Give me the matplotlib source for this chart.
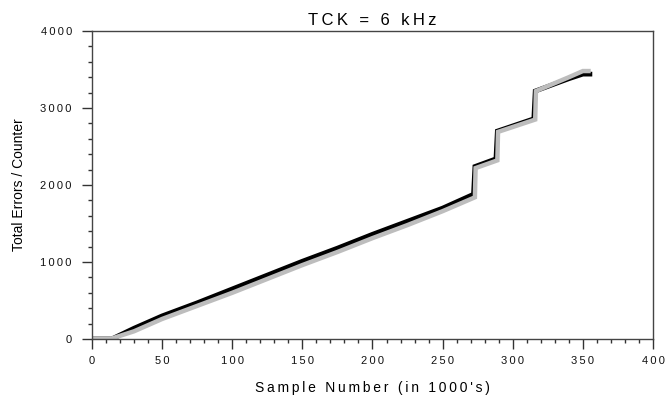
import matplotlib
matplotlib.use("Agg")
import matplotlib.pyplot as plt
from matplotlib.ticker import MultipleLocator, FuncFormatter

# Sample number (in 1000's) and total error count
black_x = [0, 12, 14, 30, 50, 75, 100, 125, 150, 175, 200, 225, 250, 272,
           273, 288, 289, 315, 316, 340, 350, 355]
black_y = [0, 0, 0, 140, 300, 470, 650, 830, 1010, 1180, 1360, 1530, 1700, 1880,
           2240, 2340, 2700, 2860, 3220, 3380, 3440, 3440]

gray_x = [0, 13, 30, 50, 75, 100, 125, 150, 175, 200, 225, 250, 273,
          273.5, 289, 289.5, 316, 316.5, 340, 350, 354]
gray_y = [0, 0, 100, 260, 430, 600, 780, 960, 1130, 1310, 1480, 1660, 1840,
          2220, 2320, 2690, 2850, 3220, 3400, 3480, 3480]

plt.rcParams['font.family'] = ['Liberation Sans', 'DejaVu Sans']


def spaced(s):
    # the original uses letter-spaced text
    return '\u2009'.join(s)


fig = plt.figure(figsize=(6.65, 3.95), dpi=100)
ax = fig.add_axes([0.1383, 0.1418, 0.8437, 0.7797])

ax.plot(black_x, black_y, color='black', linewidth=3.4, solid_joinstyle='miter')
ax.plot(gray_x, gray_y, color='#bdbdbd', linewidth=3.2, solid_joinstyle='miter')

ax.set_xlim(0, 400)
ax.set_ylim(0, 4000)
ax.xaxis.set_major_locator(MultipleLocator(50))
ax.xaxis.set_minor_locator(MultipleLocator(10))
ax.yaxis.set_major_locator(MultipleLocator(1000))
ax.yaxis.set_minor_locator(MultipleLocator(200))
fmt = FuncFormatter(lambda v, p: spaced('%d' % v))
ax.xaxis.set_major_formatter(fmt)
ax.yaxis.set_major_formatter(fmt)
ax.tick_params(which='major', direction='out', length=7.5, width=1, labelsize=8, colors='#333333')
ax.tick_params(which='minor', direction='out', length=3, width=1, colors='#333333')
ax.tick_params(axis='y', pad=7)
ax.tick_params(axis='x', pad=5)
for lab in ax.get_xticklabels() + ax.get_yticklabels():
    lab.set_color('#111111')

for s in ax.spines.values():
    s.set_color('#444444')
    s.set_linewidth(1)

ax.set_title(spaced('TCK = 6 kHz'), fontsize=12, pad=4)
ax.set_xlabel(spaced("Sample Number (in 1000's)"), fontsize=10)
ax.xaxis.set_label_coords(0.5, -0.135)
ax.set_ylabel('Total Errors / Counter', fontsize=10)
ax.yaxis.set_label_coords(-0.118, 0.5)

fig.savefig('out.png', dpi=100)
